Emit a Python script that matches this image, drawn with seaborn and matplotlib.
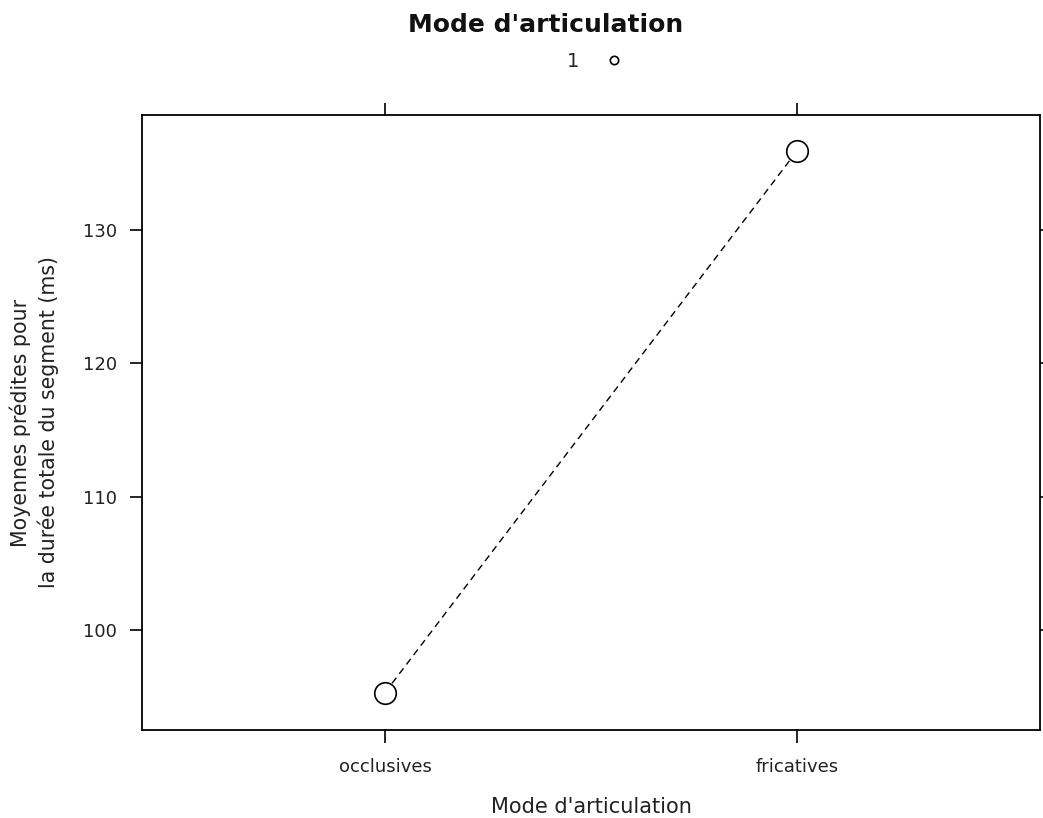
import matplotlib
matplotlib.use("Agg")
import matplotlib.pyplot as plt
import seaborn as sns
from matplotlib.lines import Line2D

categories = ["occlusives", "fricatives"]
predicted_means = [95.3, 135.9]
y_ticks = [100, 110, 120, 130]
legend_labels = ["1"]

sns.set_theme(style="white")
plt.rcParams["font.family"] = ["DejaVu Sans"]

fig = plt.figure(figsize=(10.43, 8.18), dpi=100)
ax = fig.add_axes([0.1361, 0.1076, 0.8610, 0.7518])

sns.pointplot(x=categories, y=predicted_means, ax=ax, color="black",
              linestyles="--", markers="o", errorbar=None,
              markersize=15.5, linewidth=1,
              markerfacecolor="white", markeredgewidth=1.2)
for ln in ax.lines:
    ln.set_dashes([5, 3.5])

ax.set_xlim(-0.59, 1.59)
ax.set_ylim(92.5, 138.6)
ax.set_yticks(y_ticks)

for s in ax.spines.values():
    s.set_visible(True)
    s.set_color("black")
    s.set_linewidth(1.3)

ax.tick_params(axis="both", which="both", direction="out", length=9, width=1.2,
               color="black", top=True, right=True, bottom=True, left=True,
               labeltop=False, labelright=False, labelcolor="#222222")
ax.tick_params(axis="y", labelsize=13, pad=9)
ax.tick_params(axis="x", labelsize=13, pad=11)

ax.set_xlabel("Mode d'articulation", fontsize=15, labelpad=15, color="#222222")
ax.set_ylabel("Moyennes prédites pour\nla durée totale du segment (ms)", fontsize=14.8,
              labelpad=17, color="#222222", linespacing=1.4)
ax.grid(False)

fig.text(0.523, 0.97, "Mode d'articulation", ha="center", va="center",
         fontsize=18, fontweight="bold", color="#111111")
handles = [Line2D([], [], linestyle="none", marker="o", markersize=6,
                  markerfacecolor="white", markeredgecolor="black", markeredgewidth=1.2)]
fig.legend(handles, legend_labels, loc="center", bbox_to_anchor=(0.5755, 0.925),
           frameon=False, markerfirst=False, fontsize=14, handletextpad=0.75)

fig.savefig("out.png", dpi=100)
